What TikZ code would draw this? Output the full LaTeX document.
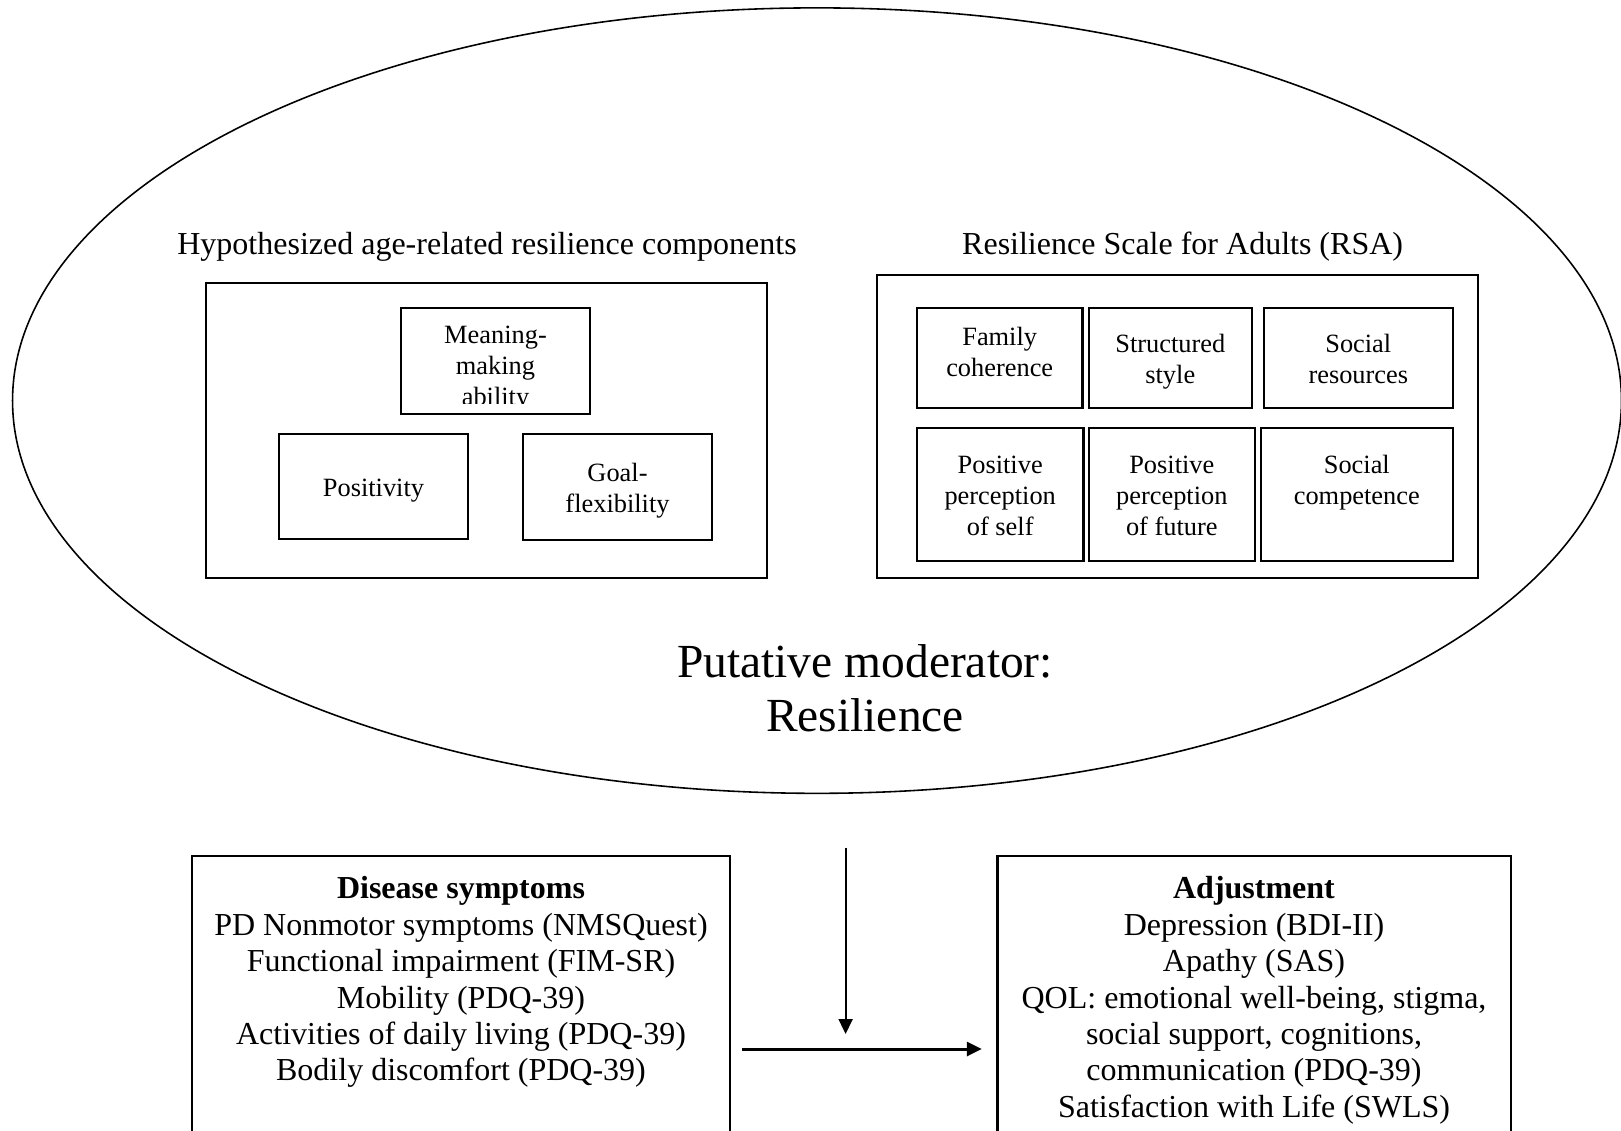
\documentclass[tikz,border=0pt]{standalone}
\usepackage{fontspec}
\setmainfont{Liberation Serif}
\usepackage{tikz}
\usetikzlibrary{arrows.meta, positioning, shapes.geometric}
\newcommand\cstrut{\rule{0pt}{\dimexpr0.7\baselineskip+2.3pt\relax}}

\begin{document}
\begin{tikzpicture}[x=0.01cm, y=-0.01cm,
  box/.style={draw, line width=0.6pt, inner sep=0pt, align=center},
  cell/.style={box, font=\fontsize{7.5}{8.8}\selectfont},
  body/.style={align=center, inner sep=0pt, font=\fontsize{9.1}{10.35}\selectfont},
  flow/.style={-{Triangle[length=1.5mm, width=1.4mm]}}]
  \useasboundingbox (0,0) rectangle (1621,1130);
  \clip (0,0) rectangle (1621,1130);
  \node[draw, ellipse, line width=0.45pt, minimum width=16.08cm, minimum height=7.85cm] (mod) at (817,400.6) {};
  \node[body] (hyptitle) at (487,247) {Hypothesized age-related resilience components};
  \node[body] (rsatitle) at (1182.6,247) {Resilience Scale for Adults (RSA)};
  \node[box, minimum width=5.61cm, minimum height=2.95cm] (hyp) at (486.4,430.5) {};
  \node[box, minimum width=6.00cm, minimum height=3.03cm] (rsa) at (1177.5,426.5) {};
  \node[cell, minimum width=1.89cm, minimum height=1.055cm] (mean) at (495.5,360.8) {};
  \begin{scope}
    \clip (mean.north west) rectangle ([yshift=0.11cm]mean.south east);
    \node[cell, draw=none] (meantext) at (495.5,364) {\cstrut Meaning-\\\strut making\\\strut ability};
  \end{scope}
  \foreach \n/\cx/\cy/\w/\h/\txt in {
      pos/373.5/486.3/1.89/1.046/{\cstrut Positivity\strut},
      goal/617.5/486.8/1.89/1.056/{\cstrut Goal-\\\strut flexibility},
      fam/999.7/358/1.654/1.00/{\cstrut Family\\\strut coherence\\[-4.8pt]\strut},
      struc/1170.3/358/1.634/1.00/{\cstrut Structured\\\strut style},
      sres/1358.3/358/1.885/1.00/{\cstrut Social\\\strut resources},
      pself/1000.2/494.5/1.664/1.33/{\cstrut Positive\\\strut perception\\\strut of self},
      pfut/1171.8/494.5/1.664/1.33/{\cstrut Positive\\\strut perception\\\strut of future},
      scomp/1356.8/494.5/1.915/1.33/{\cstrut Social\\\strut competence\\\strut}}
    \node[cell, minimum width=\w cm, minimum height=\h cm] (\n) at (\cx,\cy) {\txt};
  \node[align=center, inner sep=0pt, font=\fontsize{13.5}{15.3}\selectfont] (modlabel) at (865,688.5) {Putative moderator:\\Resilience};
  \node[box, minimum width=5.38cm, minimum height=3.24cm] (dis) at (461,1018) {};
  \node[box, minimum width=5.128cm, minimum height=3.24cm] (adj) at (1254,1018) {};
  \node[body, anchor=north] (distext) at (461,876) {\textbf{Disease symptoms}\\
    PD Nonmotor symptoms (NMSQuest)\\Functional impairment (FIM-SR)\\
    Mobility (PDQ-39)\\Activities of daily living (PDQ-39)\\Bodily discomfort (PDQ-39)};
  \node[body, anchor=north] (adjtext) at (1254,876) {\textbf{Adjustment}\\
    Depression (BDI-II)\\Apathy (SAS)\\QOL: emotional well-being, stigma,\\
    social support, cognitions,\\communication (PDQ-39)\\Satisfaction with Life (SWLS)};
  \coordinate (modbot) at (845.6,847.7);
  \coordinate (modtip) at (845.6,1034);
  \draw[flow, line width=0.6pt] (modbot) -- (modtip);
  \draw[flow, line width=0.85pt, shorten <=0.11cm, shorten >=0.146cm] ([yshift=-0.31cm]dis.east) -- ([yshift=-0.31cm]adj.west);
\end{tikzpicture}
\end{document}
